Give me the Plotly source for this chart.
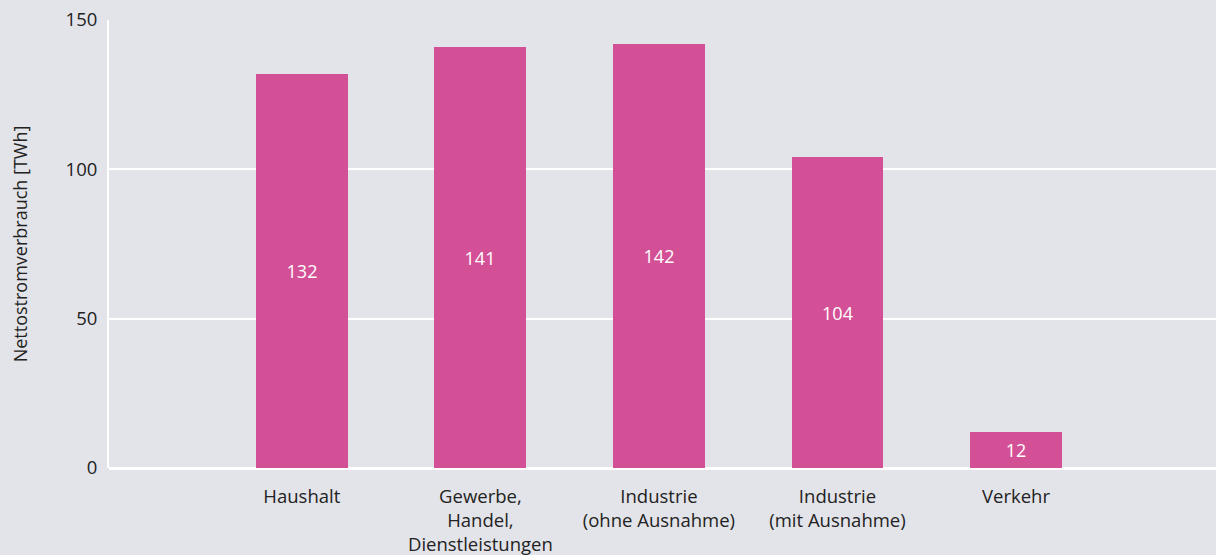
import plotly.graph_objects as go

# Nettostromverbrauch nach Verbrauchergruppen
categories = [
    "Haushalt",
    "Gewerbe,<br>Handel,<br>Dienstleistungen",
    "Industrie<br>(ohne Ausnahme)",
    "Industrie<br>(mit Ausnahme)",
    "Verkehr",
]
values = [132, 141, 142, 104, 12]
y_ticks = [0, 50, 100, 150]

BG = "#e3e4e9"
BAR = "#d45096"
FONT = "Open Sans, sans-serif"
TEXT = "#222222"

x_pos = list(range(len(categories)))

fig = go.Figure(
    go.Bar(
        x=x_pos,
        y=values,
        width=0.515,
        marker=dict(color=BAR, line=dict(width=0)),
        text=[str(v) for v in values],
        textposition="inside",
        insidetextanchor="middle",
        textangle=0,
        textfont=dict(color="white", size=18, family=FONT),
        hoverinfo="skip",
    )
)

fig.update_layout(
    width=1216,
    height=555,
    margin=dict(l=109, r=0, t=20, b=87),
    paper_bgcolor=BG,
    plot_bgcolor=BG,
    font=dict(family=FONT, size=19, color=TEXT),
    showlegend=False,
    bargap=0,
)

fig.update_xaxes(
    range=[-1.08, 5.12],
    tickmode="array",
    tickvals=x_pos,
    ticktext=categories,
    showgrid=False,
    zeroline=False,
    showline=False,
    ticks="",
    tickfont=dict(size=18.5, color=TEXT),
    ticklabelstandoff=15,
)

fig.update_yaxes(
    range=[0, 150],
    tickmode="array",
    tickvals=y_ticks,
    showgrid=True,
    gridcolor="white",
    gridwidth=2,
    zeroline=True,
    zerolinecolor="white",
    zerolinewidth=3,
    showline=True,
    linecolor="white",
    linewidth=2,
    ticks="",
    ticklabelstandoff=6,
    tickfont=dict(size=18.5, color=TEXT),
    title=dict(text="Nettostromverbrauch [TWh]", font=dict(size=18, color=TEXT), standoff=33),
)

fig.write_html("out.html")
